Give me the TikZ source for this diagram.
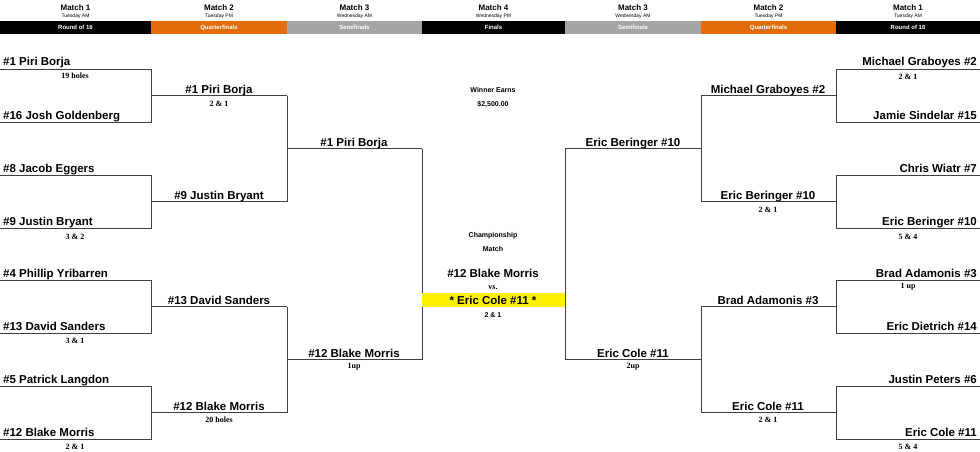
\documentclass[tikz,border=0pt]{standalone}
\usepackage{fontspec}
\setmainfont{Liberation Serif}
\newfontfamily\arl{Liberation Sans}
\definecolor{hdorange}{HTML}{E36C0A}
\definecolor{hdgray}{HTML}{A5A5A5}
\definecolor{lnc}{HTML}{404040}
\begin{document}
\begin{tikzpicture}[x=1pt,y=-1pt,
 nm/.style={font=\arl\bfseries\fontsize{11.5}{12}\selectfont,inner sep=1pt,anchor=base west},
 nmr/.style={nm,anchor=base east},
 sc/.style={font=\bfseries\fontsize{8}{9}\selectfont,inner sep=0pt},
 ht/.style={font=\arl\bfseries\fontsize{8}{9}\selectfont,inner sep=0pt},
 hs/.style={font=\arl\fontsize{5}{6}\selectfont,inner sep=0pt},
 bar/.style={font=\arl\bfseries\fontsize{6}{7}\selectfont,text=white,inner sep=0pt},
 ln/.style={draw=lnc,line width=0.9pt}]
\useasboundingbox (0,0) rectangle (980,452);
% header
\foreach \a/\b/\t/\s/\c/\l [count=\i] in {0/151/Match 1/Tuesday AM/black/Round of 16,151/287/Match 2/Tuesday PM/hdorange/Quarterfinals,287/422/Match 3/Wednesday AM/hdgray/Semifinals,422/565/Match 4/Wednesday PM/black/Finals,565/701/Match 3/Wednesday AM/hdgray/Semifinals,701/836/Match 2/Tuesday PM/hdorange/Quarterfinals,836/980/Match 1/Tuesday AM/black/Round of 16}{
 \fill[\c] (\a,21) rectangle (\b,34);
 \node[ht] (h\i) at ({(\a+\b)/2},8) {\t};
 \node[hs] (s\i) at ({(\a+\b)/2},16) {\s};
 \node[bar] (b\i) at ({(\a+\b)/2},27.5) {\l};
}
% left bracket lines
\foreach \t/\b in {69/122,175/228,280/333,386/439}{
 \draw[ln] (0,\t) -- (151,\t) -- (151,\b) -- (0,\b);
 \draw[ln] (151,{(\t+\b)/2}) -- (287,{(\t+\b)/2});
 \draw[ln] (980,\t) -- (836,\t) -- (836,\b) -- (980,\b);
 \draw[ln] (836,{(\t+\b)/2}) -- (701,{(\t+\b)/2});
}
\foreach \t/\b in {95.5/201.5,306.5/412.5}{
 \draw[ln] (287,\t) -- (287,\b);
 \draw[ln] (287,{(\t+\b)/2}) -- (422,{(\t+\b)/2});
 \draw[ln] (701,\t) -- (701,\b);
 \draw[ln] (701,{(\t+\b)/2}) -- (565,{(\t+\b)/2});
}
\draw[ln] (422,148.5) -- (422,359.5);
\draw[ln] (565,148.5) -- (565,359.5);
% left names
\node[nm] (l1) at (2,66) {\#1 Piri Borja};
\node[nm] (l2) at (2,119) {\#16 Josh Goldenberg};
\node[nm] (l3) at (2,172) {\#8 Jacob Eggers};
\node[nm] (l4) at (2,225) {\#9 Justin Bryant};
\node[nm] (l5) at (2,277) {\#4 Phillip Yribarren};
\node[nm] (l6) at (2,330) {\#13 David Sanders};
\node[nm] (l7) at (2,383) {\#5 Patrick Langdon};
\node[nm] (l8) at (2,436) {\#12 Blake Morris};
\node[nm,anchor=base] (q1) at (219,93) {\#1 Piri Borja};
\node[nm,anchor=base] (q2) at (219,199) {\#9 Justin Bryant};
\node[nm,anchor=base] (q3) at (219,304) {\#13 David Sanders};
\node[nm,anchor=base] (q4) at (219,410) {\#12 Blake Morris};
\node[nm,anchor=base] (sf1) at (354,146) {\#1 Piri Borja};
\node[nm,anchor=base] (sf2) at (354,357) {\#12 Blake Morris};
% right names
\node[nmr] (r1) at (978,66) {Michael Graboyes \#2};
\node[nmr] (r2) at (978,119) {Jamie Sindelar \#15};
\node[nmr] (r3) at (978,172) {Chris Wiatr \#7};
\node[nmr] (r4) at (978,225) {Eric Beringer \#10};
\node[nmr] (r5) at (978,277) {Brad Adamonis \#3};
\node[nmr] (r6) at (978,330) {Eric Dietrich \#14};
\node[nmr] (r7) at (978,383) {Justin Peters \#6};
\node[nmr] (r8) at (978,436) {Eric Cole \#11};
\node[nm,anchor=base] (rq1) at (768,93) {Michael Graboyes \#2};
\node[nm,anchor=base] (rq2) at (768,199) {Eric Beringer \#10};
\node[nm,anchor=base] (rq3) at (768,304) {Brad Adamonis \#3};
\node[nm,anchor=base] (rq4) at (768,410) {Eric Cole \#11};
\node[nm,anchor=base] (rs1) at (633,146) {Eric Beringer \#10};
\node[nm,anchor=base] (rs2) at (633,357) {Eric Cole \#11};
% scores
\node[sc] (c1) at (75,75.5) {19 holes};
\node[sc] (c2) at (75,237) {3 \& 2};
\node[sc] (c3) at (75,341) {3 \& 1};
\node[sc] (c4) at (75,447) {2 \& 1};
\node[sc] (c5) at (219,103.5) {2 \& 1};
\node[sc] (c6) at (219,420) {20 holes};
\node[sc] (c7) at (354,367) {1up};
\node[sc] (d1) at (908,77) {2 \& 1};
\node[sc] (d2) at (908,237) {5 \& 4};
\node[sc] (d3) at (908,287) {1 up};
\node[sc] (d4) at (908,447) {5 \& 4};
\node[sc] (d5) at (768,210) {2 \& 1};
\node[sc] (d6) at (768,420) {2 \& 1};
\node[sc] (d7) at (633,367) {2up};
% center
\node[ht,font=\arl\bfseries\fontsize{7}{8}\selectfont] (w1) at (493,90) {Winner Earns};
\node[ht,font=\arl\bfseries\fontsize{7}{8}\selectfont] (w2) at (493,104) {\$2,500.00};
\node[ht,font=\arl\bfseries\fontsize{7}{8}\selectfont] (m1) at (493,236) {Championship};
\node[ht,font=\arl\bfseries\fontsize{7}{8}\selectfont] (m2) at (493,249) {Match};
\node[nm,anchor=base] (f1) at (493,277) {\#12 Blake Morris};
\node[sc] (vs) at (493,288) {vs.};
\fill[yellow] (422,293) rectangle (565,307);
\node[nm,anchor=base] (f2) at (493,304) {* Eric Cole \#11 *};
\node[ht,font=\arl\bfseries\fontsize{7}{8}\selectfont] (f3) at (493,315) {2 \& 1};
\end{tikzpicture}
\end{document}
